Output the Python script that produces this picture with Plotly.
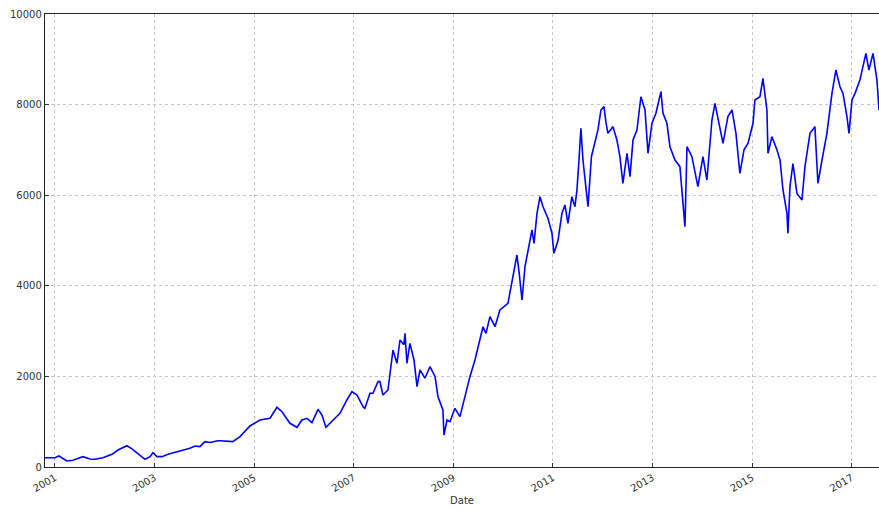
import plotly.graph_objects as go

dates = [
    "2000-10-20", "2001-01-01", "2001-01-30", "2001-03-30", "2001-05-13", "2001-07-25",
    "2001-09-15", "2001-10-21", "2001-12-19", "2002-02-23", "2002-04-08", "2002-06-13",
    "2002-07-20", "2002-09-02", "2002-10-23", "2002-11-29", "2002-12-21", "2003-01-19",
    "2003-02-25", "2003-04-10", "2003-06-15", "2003-07-29", "2003-09-18", "2003-10-25",
    "2003-11-30", "2004-01-06", "2004-02-12", "2004-04-10", "2004-04-25", "2004-07-28",
    "2004-09-19", "2004-12-01", "2005-02-12", "2005-04-27", "2005-06-17", "2005-07-24",
    "2005-09-20", "2005-11-11", "2005-12-17", "2006-01-23", "2006-03-01", "2006-04-14",
    "2006-05-13", "2006-06-11", "2006-07-25", "2006-09-22", "2006-11-12", "2006-12-19",
    "2007-01-25", "2007-02-16", "2007-03-10", "2007-03-24", "2007-04-30", "2007-05-22",
    "2007-06-28", "2007-07-12", "2007-08-03", "2007-09-09", "2007-10-16", "2007-11-14",
    "2007-12-06", "2008-01-04", "2008-01-12", "2008-01-26", "2008-02-17", "2008-03-18",
    "2008-04-09", "2008-05-01", "2008-06-06", "2008-07-13", "2008-08-19", "2008-09-10",
    "2008-10-16", "2008-10-24", "2008-11-15", "2008-12-07", "2009-01-12", "2009-02-18",
    "2009-03-27", "2009-05-02", "2009-06-08", "2009-07-15", "2009-08-06", "2009-08-28",
    "2009-09-26", "2009-11-02", "2009-12-08", "2010-02-05", "2010-03-06", "2010-04-12",
    "2010-04-27", "2010-05-19", "2010-06-10", "2010-07-02", "2010-07-31", "2010-08-15",
    "2010-09-06", "2010-09-28", "2010-10-20", "2010-11-25", "2010-12-25", "2011-01-08",
    "2011-02-07", "2011-03-08", "2011-03-30", "2011-04-21", "2011-05-20", "2011-06-11",
    "2011-06-26", "2011-07-11", "2011-07-25", "2011-08-09", "2011-09-15", "2011-10-10",
    "2011-11-05", "2011-11-27", "2011-12-19", "2012-01-10", "2012-01-25", "2012-02-08",
    "2012-03-16", "2012-04-14", "2012-05-06", "2012-05-28", "2012-06-27", "2012-07-19",
    "2012-08-10", "2012-09-08", "2012-10-07", "2012-11-06", "2012-11-28", "2012-12-27",
    "2013-01-25", "2013-03-03", "2013-03-18", "2013-04-16", "2013-05-08", "2013-06-14",
    "2013-07-20", "2013-08-26", "2013-09-10", "2013-10-16", "2013-11-29", "2014-01-05",
    "2014-02-03", "2014-03-12", "2014-04-03", "2014-05-10", "2014-06-01", "2014-07-07",
    "2014-08-06", "2014-09-04", "2014-10-03", "2014-11-02", "2014-12-01", "2015-01-07",
    "2015-01-21", "2015-02-27", "2015-03-21", "2015-04-19", "2015-04-27", "2015-05-26",
    "2015-07-02", "2015-07-24", "2015-08-15", "2015-09-13", "2015-09-20", "2015-10-05",
    "2015-10-27", "2015-11-25", "2016-01-01", "2016-01-23", "2016-02-29", "2016-04-05",
    "2016-04-27", "2016-05-27", "2016-07-02", "2016-08-08", "2016-09-06", "2016-10-06",
    "2016-10-28", "2016-11-26", "2016-12-11", "2017-01-02", "2017-01-24", "2017-03-01",
    "2017-04-14", "2017-05-06", "2017-06-05", "2017-07-04", "2017-07-19",
]

values = [
    205, 205, 243, 132, 150, 228,
    177, 170, 205, 280, 375, 470,
    400, 300, 170, 228, 316, 228,
    228, 280, 330, 375, 412, 463,
    450, 560, 540, 580, 580, 560,
    670, 905, 1037, 1075, 1318, 1220,
    965, 876, 1037, 1075, 978, 1273,
    1148, 876, 1000, 1185, 1479, 1663,
    1590, 1442, 1332, 1295, 1627, 1627,
    1884, 1884, 1590, 1700, 2583, 2289,
    2804, 2700, 2951, 2289, 2730, 2362,
    1773, 2141, 1960, 2214, 2000, 1552,
    1258, 706, 1037, 1000, 1295, 1111,
    1552, 1994, 2362, 2804, 3097, 2951,
    3318, 3097, 3466, 3614, 4055, 4680,
    4319, 3687, 4422, 4790, 5232, 4937,
    5600, 5967, 5746, 5490, 5158, 4717,
    5000, 5600, 5784, 5380, 5967, 5746,
    6115, 6777, 7477, 6777, 5746, 6850,
    7145, 7440, 7881, 7955, 7600, 7366,
    7513, 7218, 6850, 6262, 6925, 6410,
    7218, 7440, 8174, 7881, 6925, 7587,
    7808, 8285, 7808, 7587, 7071, 6777,
    6630, 5305, 7071, 6850, 6188, 6850,
    6335, 7660, 8029, 7513, 7145, 7734,
    7881, 7366, 6483, 7000, 7145, 7587,
    8101, 8174, 8580, 7881, 6925, 7292,
    7000, 6777, 6115, 5600, 5158, 6188,
    6700, 6040, 5894, 6630, 7366, 7513,
    6262, 6777, 7366, 8248, 8764, 8395,
    8248, 7734, 7366, 8101, 8248, 8542,
    9132, 8764, 9132, 8542, 7881,
]

y_ticks = [0, 2000, 4000, 6000, 8000, 10000]
y_tick_labels = ["0", "2000", "4000", "6000", "8000", "10000"]
x_tick_years = ["2001", "2003", "2005", "2007", "2009", "2011", "2013", "2015", "2017"]

font_family = "DejaVu Sans"

fig = go.Figure()
fig.add_trace(go.Scatter(
    x=dates, y=values, mode="lines",
    line=dict(color="#0000ff", width=1.6),
    showlegend=False, hoverinfo="skip",
))

fig.update_layout(
    width=879, height=511,
    margin=dict(l=45, r=0, t=14, b=44),
    paper_bgcolor="white", plot_bgcolor="white",
    font=dict(family=font_family, size=10, color="#333333"),
    xaxis=dict(
        range=["2000-10-20", "2017-07-19"],
        tickvals=[y + "-01-01" for y in x_tick_years],
        ticktext=x_tick_years,
        tickangle=-30,
        ticks="inside", ticklen=4, tickcolor="#333333",
        showgrid=True, gridcolor="#c8c8c8", griddash="dot", gridwidth=1,
        showline=True, linecolor="#222222", linewidth=1.2, mirror=True,
        zeroline=False, automargin=False,
        title=dict(text="Date", font=dict(size=10, color="#333333"), standoff=4),
    ),
    yaxis=dict(
        range=[0, 10000],
        tickvals=y_ticks,
        ticktext=y_tick_labels,
        ticks="inside", ticklen=4, tickcolor="#333333",
        showgrid=True, gridcolor="#c8c8c8", griddash="dot", gridwidth=1,
        showline=True, linecolor="#222222", linewidth=1.2, mirror=False,
        zeroline=False, automargin=False,
    ),
)

fig.write_html(
    "out.html",
    config={"displayModeBar": False, "staticPlot": True},
    post_script="document.body.style.margin='0';document.body.style.overflow='hidden';",
)
